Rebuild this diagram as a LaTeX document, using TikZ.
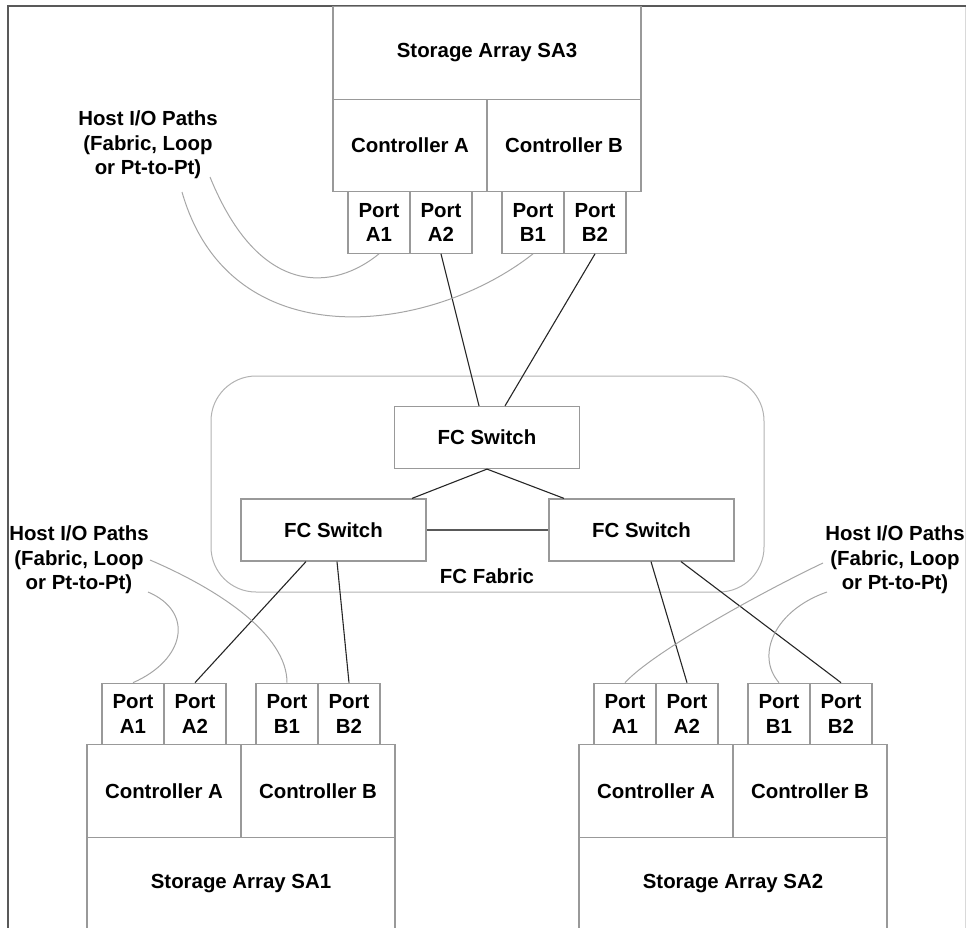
\documentclass[tikz,border=0pt]{standalone}
\usepackage{fontspec}
\setmainfont{Liberation Sans}
\usepackage{xcolor}
\usepackage{tikz}
\usetikzlibrary{calc}

\begin{document}
\begin{tikzpicture}[x=1pt,y=-1pt,
    font=\fontsize{20.4}{24.5}\selectfont\bfseries,
    box/.style={draw=black!40,line width=1.2pt,inner sep=0pt,align=center},
    arraybox/.style={box,minimum width=308pt,minimum height=92.5pt},
    ctrlbox/.style={box,minimum width=154pt,minimum height=92.5pt},
    portbox/.style={box,minimum width=62pt,minimum height=61.5pt},
    switchbox/.style={box,minimum width=185pt,minimum height=62pt},
    link/.style={draw=black!85,line width=1.1pt},
    trunk/.style={draw=black!65,line width=2.5pt},
    hostpath/.style={draw=black!35,line width=1pt},
    hosttext/.style={align=center,inner sep=0pt}]
    \useasboundingbox (0,0) rectangle (966,928);
    % frame
    \draw[black!15,line width=1pt] (965,6) -- (965,928);
    \draw[black!65,line width=2pt] (8,928) -- (8,6) -- (966,6);
    % storage array SA3
    \node[arraybox] (sa3) at (487,53) {Storage Array SA3};
    \node[ctrlbox] (sa3ca) at (410,145.5) {Controller A};
    \node[ctrlbox] (sa3cb) at (564,145.5) {Controller B};
    \node[portbox] (sa3a1) at (379,222.5) {Port\\A1};
    \node[portbox] (sa3a2) at (441,222.5) {Port\\A2};
    \node[portbox] (sa3b1) at (533,222.5) {Port\\B1};
    \node[portbox] (sa3b2) at (595,222.5) {Port\\B2};
    % storage array SA1
    \node[arraybox] (sa1) at (241,883.5) {Storage Array SA1};
    \node[ctrlbox] (sa1ca) at (164,791) {Controller A};
    \node[ctrlbox] (sa1cb) at (318,791) {Controller B};
    \node[portbox] (sa1a1) at (133,714) {Port\\A1};
    \node[portbox] (sa1a2) at (195,714) {Port\\A2};
    \node[portbox] (sa1b1) at (287,714) {Port\\B1};
    \node[portbox] (sa1b2) at (349,714) {Port\\B2};
    % storage array SA2
    \node[arraybox] (sa2) at (733,883.5) {Storage Array SA2};
    \node[ctrlbox] (sa2ca) at (656,791) {Controller A};
    \node[ctrlbox] (sa2cb) at (810,791) {Controller B};
    \node[portbox] (sa2a1) at (625,714) {Port\\A1};
    \node[portbox] (sa2a2) at (687,714) {Port\\A2};
    \node[portbox] (sa2b1) at (779,714) {Port\\B1};
    \node[portbox] (sa2b2) at (841,714) {Port\\B2};
    % fabric
    \node[draw=black!30,line width=1pt,rounded corners=45pt,minimum width=553pt,minimum height=216pt] (fabric) at (487.5,484) {};
    \node (fabriclabel) at (487,576) {FC Fabric};
    \node[switchbox] (swtop) at (487,437.5) {FC Switch};
    \node[switchbox] (swleft) at (333.5,530) {FC Switch};
    \node[switchbox] (swright) at (641.5,530) {FC Switch};
    % host path labels
    \node[hosttext] (host3) at (148,145) {Host I/O Paths\\(Fabric, Loop\\or Pt-to-Pt)};
    \node[hosttext] (host1) at (79,560) {Host I/O Paths\\(Fabric, Loop\\or Pt-to-Pt)};
    \node[hosttext] (host2) at (895,560) {Host I/O Paths\\(Fabric, Loop\\or Pt-to-Pt)};
    \coordinate (h3a) at (210,177);
    \coordinate (h3b) at (182,192);
    \coordinate (h1a) at (150,560);
    \coordinate (h1b) at (148,592);
    \coordinate (h2a) at (823,563);
    \coordinate (h2b) at (827,592);
    % fabric links
    \draw[link] (sa3a2.south) -- ($(swtop.north)+(-8,0)$);
    \draw[link] (sa3b2.south) -- ($(swtop.north)+(18,0)$);
    \draw[link] (swtop.south) -- ($(swleft.north)+(78.5,0)$);
    \draw[link] (swtop.south) -- ($(swright.north)+(-77.5,0)$);
    \draw[trunk] (swleft.east) -- (swright.west);
    \draw[link] ($(swleft.south)+(-27.5,0)$) -- (sa1a2.north);
    \draw[link] ($(swleft.south)+(3.5,0)$) -- (sa1b2.north);
    \draw[link] ($(swright.south)+(9.5,0)$) -- (sa2a2.north);
    \draw[link] ($(swright.south)+(39.5,0)$) -- (sa2b2.north);
    % host paths
    \draw[hostpath] (sa3a1.south) .. controls (335,290) and (260,300) .. (h3a);
    \draw[hostpath] (sa3b1.south) .. controls (430,335) and (230,360) .. (h3b);
    \draw[hostpath] (sa1a1.north) .. controls (185,660) and (195,612) .. (h1b);
    \draw[hostpath] (sa1b1.north) .. controls (287,635) and (220,590) .. (h1a);
    \draw[hostpath] (sa2a1.north) .. controls (655,650) and (770,588) .. (h2a);
    \draw[hostpath] (sa2b1.north) .. controls (755,655) and (775,610) .. (h2b);
\end{tikzpicture}
\end{document}
